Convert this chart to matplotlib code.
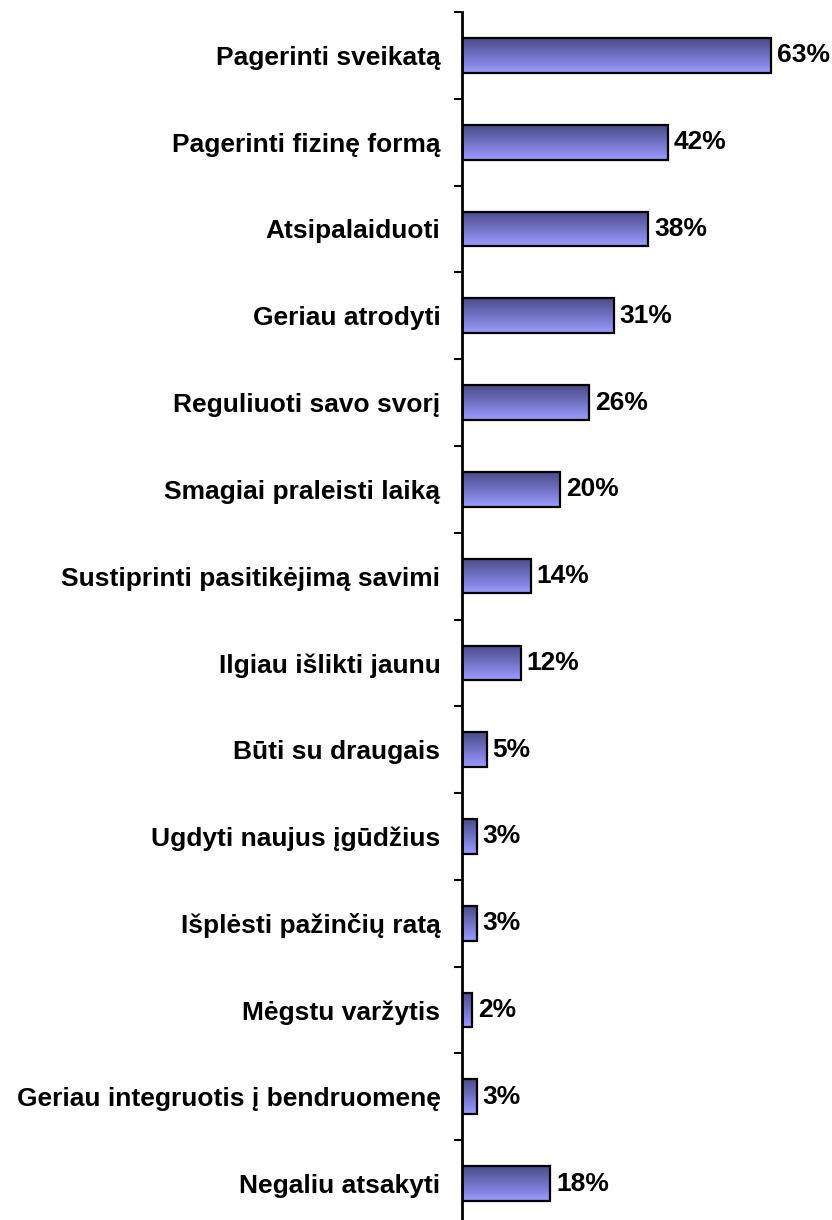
import matplotlib
matplotlib.use("Agg")
import matplotlib.pyplot as plt
import numpy as np
from matplotlib.colors import LinearSegmentedColormap
from matplotlib.patches import Rectangle

categories = [
    "Pagerinti sveikatą",
    "Pagerinti fizinę formą",
    "Atsipalaiduoti",
    "Geriau atrodyti",
    "Reguliuoti savo svorį",
    "Smagiai praleisti laiką",
    "Sustiprinti pasitikėjimą savimi",
    "Ilgiau išlikti jaunu",
    "Būti su draugais",
    "Ugdyti naujus įgūdžius",
    "Išplėsti pažinčių ratą",
    "Mėgstu varžytis",
    "Geriau integruotis į bendruomenę",
    "Negaliu atsakyti",
]
values = [63, 42, 38, 31, 26, 20, 14, 12, 5, 3, 3, 2, 3, 18]
value_labels = [f"{v}%" for v in values]

plt.rcParams['font.family'] = ['Liberation Sans', 'DejaVu Sans']

W, H = 832, 1220
fig = plt.figure(figsize=(W / 100, H / 100), dpi=100)
ax_left = 462 / W
ax_top = 1 - 12 / H
ax_bottom = -7 / H
ax = fig.add_axes([ax_left, ax_bottom, 1 - ax_left, ax_top - ax_bottom])

n = len(categories)
xmax = (W - 462) / 4.9
bar_h = 0.40
FS = 19

cmap = LinearSegmentedColormap.from_list(
    "g", [(0.0, "#4b4b86"), (0.45, "#6e6ec0"), (1.0, "#9c9cff")])
grad = np.linspace(0, 1, 256).reshape(-1, 1)

for i, (v, lab) in enumerate(zip(values, value_labels)):
    y = i
    ax.imshow(grad, cmap=cmap, aspect="auto", origin="upper",
              extent=(0, v, y + bar_h / 2, y - bar_h / 2), zorder=2,
              interpolation="bilinear")
    ax.add_patch(Rectangle((0, y - bar_h / 2), v, bar_h, fill=False,
                           edgecolor="black", linewidth=1.6, zorder=3))
    ax.text(v + 1.2, y, lab, va="center", ha="left", fontsize=FS,
            fontweight="bold", color="black")

ax.set_xlim(0, xmax)
ax.set_ylim(n - 0.5, -0.5)

ax.set_yticks(range(n))
ax.set_yticklabels(categories, fontsize=FS, fontweight="bold")
ax.tick_params(axis="y", which="major", length=0, pad=15.5)
ax.set_yticks(np.arange(-0.5, n, 1.0), minor=True)
ax.tick_params(axis="y", which="minor", length=6, width=1.5, direction="out")
ax.set_xticks([])

for s in ["top", "right", "bottom"]:
    ax.spines[s].set_visible(False)
ax.spines["left"].set_linewidth(2)

fig.savefig("out.png", dpi=100)
